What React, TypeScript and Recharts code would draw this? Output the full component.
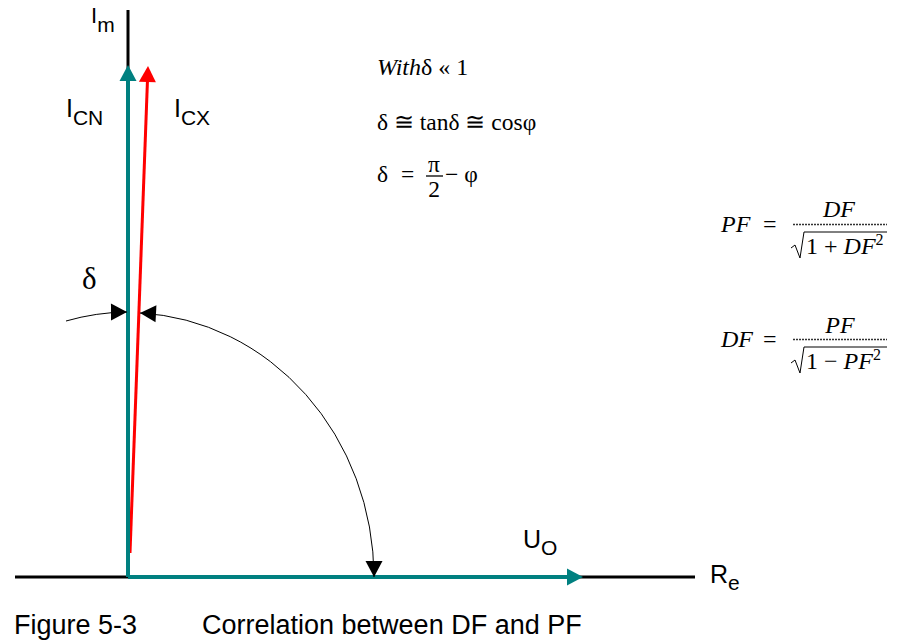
import React from 'react';
import { ComposedChart, XAxis, YAxis, ReferenceLine, Customized } from 'recharts';

const CHART_W = 898;
const CHART_H = 643;
const X_DOMAIN: [number, number] = [-128, 770];
const Y_DOMAIN: [number, number] = [-66, 577];

// axes of the complex plane (Re, Im)
const reAxis = [{ x: -113, y: 0 }, { x: 567, y: 0 }];
const imAxis = [{ x: 0, y: 0 }, { x: 0, y: 567 }];

// phasors: tail and tip
const uoVector = [{ x: 0, y: 0 }, { x: 455, y: 0 }];
const icnVector = [{ x: 0, y: 0 }, { x: 0, y: 512 }];
const icxVector = [{ x: 2, y: 24 }, { x: 20, y: 511 }];

// angle arcs on an ellipse centred at origin
const arcRadii = { rx: 246, ry: 265 };
const deltaArc = [{ x: -62, y: 256 }, { x: -1, y: 265 }];
const phiArc = [{ x: 12, y: 264 }, { x: 246, y: 0 }];

const TEAL = '#008080';
const RED = '#ff0000';
const SANS = '"Liberation Sans", Arial, sans-serif';
const SERIF = '"Liberation Serif", "Times New Roman", serif';

const head = (tx: number, ty: number, dx: number, dy: number, len: number, half: number, fill: string) => {
  const n = Math.hypot(dx, dy) || 1;
  const ux = dx / n, uy = dy / n;
  const bx = tx - ux * len, by = ty - uy * len;
  const px = -uy * half, py = ux * half;
  return <polygon points={`${tx},${ty} ${bx + px},${by + py} ${bx - px},${by - py}`} fill={fill} />;
};

const axisShape = (p: any) => (
  <line x1={p.x1} y1={p.y1} x2={p.x2} y2={p.y2} stroke="#000" strokeWidth={3} strokeLinecap="butt" />
);

const vectorShape = (color: string, width: number) => (p: any) => {
  const { x1, y1, x2, y2 } = p;
  const dx = x2 - x1, dy = y2 - y1;
  const n = Math.hypot(dx, dy) || 1;
  const L = 16;
  const bx = x2 - (dx / n) * (L - 2), by = y2 - (dy / n) * (L - 2);
  return (
    <g>
      <line x1={x1} y1={y1} x2={bx} y2={by} stroke={color} strokeWidth={width} />
      {head(x2, y2, dx, dy, L, 8.5, color)}
    </g>
  );
};

const arcShape = (seg: { x: number; y: number }[], startArrow: boolean, endArrow: boolean) => (p: any) => {
  const { x1, y1, x2, y2 } = p;
  const kx = (x2 - x1) / (seg[1].x - seg[0].x);
  const ky = (y2 - y1) / (seg[1].y - seg[0].y);
  const rxp = arcRadii.rx * Math.abs(kx);
  const ryp = arcRadii.ry * Math.abs(ky);
  const cx = x1 - seg[0].x * kx;
  const cy = y1 - seg[0].y * ky;
  const tan = (px: number, py: number) => {
    const t = Math.atan2((py - cy) / ryp, (px - cx) / rxp);
    return [-rxp * Math.sin(t), ryp * Math.cos(t)];
  };
  const [sdx, sdy] = tan(x1, y1);
  const [edx, edy] = tan(x2, y2);
  return (
    <g>
      <path d={`M ${x1} ${y1} A ${rxp} ${ryp} 0 0 1 ${x2} ${y2}`} fill="none" stroke="#000" strokeWidth={1} />
      {startArrow && head(x1, y1, -sdx, -sdy, 16, 8.5, '#000')}
      {endArrow && head(x2, y2, edx, edy, 16, 8.5, '#000')}
    </g>
  );
};

const Overlay = () => (
  <g>
    {/* axis and phasor labels */}
    <text x={91} y={23} fontFamily={SANS} fontSize={22} fill="#000">
      I<tspan dy={9} fontSize={21}>m</tspan>
    </text>
    <text x={66} y={117} fontFamily={SANS} fontSize={25} fill="#000">
      I<tspan dy={8} fontSize={21}>CN</tspan>
    </text>
    <text x={174} y={117} fontFamily={SANS} fontSize={25} fill="#000">
      I<tspan dy={8} fontSize={21}>CX</tspan>
    </text>
    <text x={523} y={548} fontFamily={SANS} fontSize={25} fill="#000">
      U<tspan dy={7} fontSize={21}>O</tspan>
    </text>
    <text x={710} y={583} fontFamily={SANS} fontSize={25} fill="#000">
      R<tspan dy={7} fontSize={21}>e</tspan>
    </text>
    <text x={82} y={289} fontFamily={SERIF} fontSize={31} fill="#000">δ</text>

    {/* left formulas */}
    <text x={377} y={75} fontFamily={SERIF} fontSize={24} fill="#000">
      <tspan fontStyle="italic">With</tspan>δ « 1
    </text>
    <text x={377} y={130} fontFamily={SERIF} fontSize={23.5} fill="#000">δ ≅ tanδ ≅ cosφ</text>
    <text x={377} y={182} fontFamily={SERIF} fontSize={23.5} fill="#000">δ</text>
    <text x={401} y={182} fontFamily={SERIF} fontSize={23.5} fill="#000">=</text>
    <text x={434} y={172} fontFamily={SERIF} fontSize={23.5} textAnchor="middle" fill="#000">π</text>
    <line x1={426} y1={176} x2={443} y2={176} stroke="#000" strokeWidth={1.3} />
    <text x={434} y={197} fontFamily={SERIF} fontSize={23.5} textAnchor="middle" fill="#000">2</text>
    <text x={445} y={182} fontFamily={SERIF} fontSize={23.5} fill="#000">− φ</text>

    {/* PF formula */}
    <text x={721} y={232} fontFamily={SERIF} fontSize={24} fontStyle="italic" fill="#000">PF</text>
    <text x={763} y={232} fontFamily={SERIF} fontSize={24} fill="#000">=</text>
    <text x={839} y={217} fontFamily={SERIF} fontSize={24} fontStyle="italic" textAnchor="middle" fill="#000">DF</text>
    <line x1={793} y1={224.5} x2={887} y2={224.5} stroke="#333" strokeWidth={1.6} strokeDasharray="2 1" />
    <path d="M 791 248 L 795 245 L 800 258 L 804 232 L 887 232" fill="none" stroke="#000" strokeWidth={1} />
    <text x={806} y={254} fontFamily={SERIF} fontSize={24} fill="#000">
      1 + <tspan fontStyle="italic">DF</tspan><tspan dy={-9} fontSize={16}>2</tspan>
    </text>

    {/* DF formula */}
    <text x={721} y={347} fontFamily={SERIF} fontSize={24} fontStyle="italic" fill="#000">DF</text>
    <text x={763} y={347} fontFamily={SERIF} fontSize={24} fill="#000">=</text>
    <text x={840} y={333} fontFamily={SERIF} fontSize={24} fontStyle="italic" textAnchor="middle" fill="#000">PF</text>
    <line x1={793} y1={339.5} x2={887} y2={339.5} stroke="#333" strokeWidth={1.6} strokeDasharray="2 1" />
    <path d="M 791 363 L 795 360 L 800 373 L 804 347 L 887 347" fill="none" stroke="#000" strokeWidth={1} />
    <text x={806} y={369} fontFamily={SERIF} fontSize={24} fill="#000">
      1 − <tspan fontStyle="italic">PF</tspan><tspan dy={-9} fontSize={16}>2</tspan>
    </text>

    {/* caption */}
    <text x={14} y={634} fontFamily={SANS} fontSize={27} fill="#000">Figure 5-3</text>
    <text x={202} y={634} fontFamily={SANS} fontSize={27} fill="#000">Correlation between DF and PF</text>
  </g>
);

export default function App() {
  return (
    <div style={{ position: 'fixed', left: 0, top: 0, width: CHART_W, height: CHART_H, background: '#fff' }}>
      <ComposedChart width={CHART_W} height={CHART_H} margin={{ top: 0, right: 0, bottom: 0, left: 0 }}>
        <XAxis type="number" dataKey="x" domain={X_DOMAIN} allowDataOverflow hide />
        <YAxis type="number" dataKey="y" domain={Y_DOMAIN} allowDataOverflow hide />
        <ReferenceLine segment={reAxis} shape={axisShape} ifOverflow="extendDomain" />
        <ReferenceLine segment={imAxis} shape={axisShape} ifOverflow="extendDomain" />
        <ReferenceLine segment={uoVector} shape={vectorShape(TEAL, 4)} ifOverflow="extendDomain" />
        <ReferenceLine segment={icxVector} shape={vectorShape(RED, 3)} ifOverflow="extendDomain" />
        <ReferenceLine segment={icnVector} shape={vectorShape(TEAL, 4)} ifOverflow="extendDomain" />
        <ReferenceLine segment={deltaArc} shape={arcShape(deltaArc, false, true)} ifOverflow="extendDomain" />
        <ReferenceLine segment={phiArc} shape={arcShape(phiArc, true, true)} ifOverflow="extendDomain" />
        <Customized component={Overlay} />
      </ComposedChart>
    </div>
  );
}
